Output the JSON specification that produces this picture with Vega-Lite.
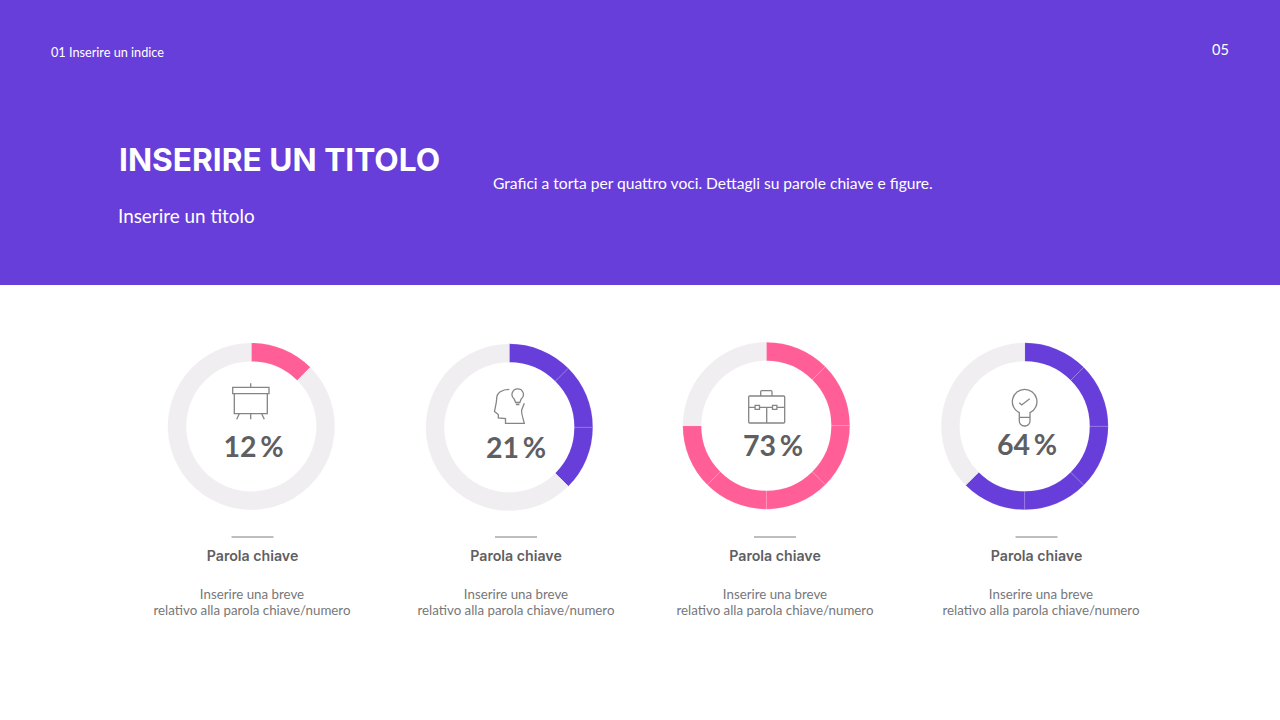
{
  "$schema": "https://vega.github.io/schema/vega-lite/v6.json",
  "description": "Slide with a purple header and four donut charts, one per keyword.",
  "width": 1280,
  "height": 720,
  "padding": 0,
  "autosize": {"type": "fit", "contains": "padding"},
  "background": "#ffffff",
  "config": {"view": {"stroke": null}},
  "datasets": {
    "band": [{"block": "header"}],
    "header": [
      {"slot": 1, "kind": "index", "label": "01 Inserire un indice"},
      {"slot": 2, "kind": "title", "label": "INSERIRE UN TITOLO"},
      {"slot": 3, "kind": "subtitle", "label": "Inserire un titolo"},
      {"slot": 4, "kind": "body", "label": "Grafici a torta per quattro voci. Dettagli su parole chiave e figure."},
      {"slot": 5, "kind": "page", "label": "05"}
    ],
    "segments": [
      {"card": 1, "seg": 1, "value": 12.5, "tone": "pink"},
      {"card": 1, "seg": 2, "value": 87.5, "tone": "rest"},
      {"card": 2, "seg": 1, "value": 12.5, "tone": "purple"},
      {"card": 2, "seg": 2, "value": 12.5, "tone": "purple"},
      {"card": 2, "seg": 3, "value": 12.5, "tone": "purple"},
      {"card": 2, "seg": 4, "value": 62.5, "tone": "rest"},
      {"card": 3, "seg": 1, "value": 12.5, "tone": "pink"},
      {"card": 3, "seg": 2, "value": 12.5, "tone": "pink"},
      {"card": 3, "seg": 3, "value": 12.5, "tone": "pink"},
      {"card": 3, "seg": 4, "value": 12.5, "tone": "pink"},
      {"card": 3, "seg": 5, "value": 12.5, "tone": "pink"},
      {"card": 3, "seg": 6, "value": 12.5, "tone": "pink"},
      {"card": 3, "seg": 7, "value": 25, "tone": "rest"},
      {"card": 4, "seg": 1, "value": 12.5, "tone": "purple"},
      {"card": 4, "seg": 2, "value": 12.5, "tone": "purple"},
      {"card": 4, "seg": 3, "value": 12.5, "tone": "purple"},
      {"card": 4, "seg": 4, "value": 12.5, "tone": "purple"},
      {"card": 4, "seg": 5, "value": 12.5, "tone": "purple"},
      {"card": 4, "seg": 6, "value": 37.5, "tone": "rest"}
    ],
    "cards": [
      {"card": 1, "icon": "easel", "pct": "12\u2009%", "keyword": "Parola chiave"},
      {"card": 2, "icon": "head", "pct": "21\u2009%", "keyword": "Parola chiave"},
      {"card": 3, "icon": "case", "pct": "73\u2009%", "keyword": "Parola chiave"},
      {"card": 4, "icon": "bulb", "pct": "64\u2009%", "keyword": "Parola chiave"}
    ],
    "notes": [
      {"card": 1, "line": 1, "note": "Inserire una breve"},
      {"card": 1, "line": 2, "note": "relativo alla parola chiave/numero"},
      {"card": 2, "line": 1, "note": "Inserire una breve"},
      {"card": 2, "line": 2, "note": "relativo alla parola chiave/numero"},
      {"card": 3, "line": 1, "note": "Inserire una breve"},
      {"card": 3, "line": 2, "note": "relativo alla parola chiave/numero"},
      {"card": 4, "line": 1, "note": "Inserire una breve"},
      {"card": 4, "line": 2, "note": "relativo alla parola chiave/numero"}
    ]
  },
  "resolve": {"scale": {"x": "independent", "y": "independent", "theta": "independent", "color": "independent", "shape": "independent"}},
  "layer": [
    {
      "data": {"name": "band"},
      "mark": {"type": "rect", "color": "#673ed9"},
      "encoding": {
        "y": {"field": "block", "type": "nominal", "axis": null, "scale": {"type": "band", "range": [0, 285], "paddingInner": 0, "paddingOuter": 0}}
      }
    },
    {
      "data": {"name": "header"},
      "encoding": {
        "x": {"field": "slot", "type": "quantitative", "axis": null, "scale": {"domain": [1, 2, 3, 4, 5], "range": [51, 119, 118, 493, 1212], "nice": false, "zero": false}},
        "y": {"field": "slot", "type": "quantitative", "axis": null, "scale": {"domain": [1, 2, 3, 4, 5], "range": [57, 171, 223, 189, 55], "nice": false, "zero": false}},
        "text": {"field": "label"}
      },
      "layer": [
        {
          "transform": [{"filter": "datum.kind == 'index'"}],
          "mark": {"type": "text", "align": "left", "baseline": "alphabetic", "font": "Lato", "fontSize": 12.7, "color": "#ffffff"}
        },
        {
          "transform": [{"filter": "datum.kind == 'title'"}],
          "mark": {"type": "text", "align": "left", "baseline": "alphabetic", "font": "Inter", "fontWeight": 700, "fontSize": 31.7, "color": "#ffffff"}
        },
        {
          "transform": [{"filter": "datum.kind == 'subtitle'"}],
          "mark": {"type": "text", "align": "left", "baseline": "alphabetic", "font": "Lato", "fontSize": 18.9, "color": "#ffffff"}
        },
        {
          "transform": [{"filter": "datum.kind == 'body'"}],
          "mark": {"type": "text", "align": "left", "baseline": "alphabetic", "font": "Lato", "fontSize": 15.6, "color": "#ffffff"}
        },
        {
          "transform": [{"filter": "datum.kind == 'page'"}],
          "mark": {"type": "text", "align": "left", "baseline": "alphabetic", "font": "Lato", "fontSize": 14.5, "color": "#ffffff"}
        }
      ]
    },
    {
      "data": {"name": "segments"},
      "transform": [
        {"stack": "value", "groupby": ["card"], "sort": [{"field": "seg", "order": "ascending"}], "as": ["from", "to"]}
      ],
      "mark": {"type": "arc", "radius": 83.5, "radius2": 65, "stroke": "#ffffff", "strokeWidth": 0.4, "strokeOpacity": 0.3},
      "encoding": {
        "x": {"field": "card", "type": "quantitative", "axis": null, "scale": {"domain": [1, 2, 3, 4], "range": [251.3, 509.3, 766.3, 1024.7], "nice": false, "zero": false}},
        "y": {"field": "card", "type": "quantitative", "axis": null, "scale": {"domain": [1, 2, 3, 4], "range": [426.4, 427.3, 425.7, 426.3], "nice": false, "zero": false}},
        "theta": {"field": "from", "type": "quantitative", "stack": null, "scale": {"domain": [0, 100]}},
        "theta2": {"field": "to"},
        "color": {"field": "tone", "type": "nominal", "legend": null, "scale": {"domain": ["pink", "purple", "rest"], "range": ["#ff5f96", "#673ed9", "#f0eef1"]}}
      }
    },
    {
      "data": {"name": "cards"},
      "mark": {"type": "point", "filled": false, "color": "#858587", "strokeWidth": 1.3, "opacity": 1, "size": 4},
      "encoding": {
        "x": {"field": "card", "type": "quantitative", "axis": null, "scale": {"domain": [1, 2, 3, 4], "range": [251, 510, 766.5, 1024], "nice": false, "zero": false}},
        "y": {"field": "card", "type": "quantitative", "axis": null, "scale": {"domain": [1, 2, 3, 4], "range": [400, 406, 407, 407], "nice": false, "zero": false}},
        "shape": {
          "field": "icon",
          "type": "nominal",
          "legend": null,
          "scale": {
            "domain": ["easel", "head", "case", "bulb"],
            "range": [
              "M-18.3,-12.7H18V-6.3H-18.3ZM-16.7,-6.3V13.7H16.3V-6.3M-0.3,-16.7V-12.7M-11.7,13.7L-14.3,19.3M-0.3,13.7V19.3M10.7,13.7L13.3,19.3",
              "M-0.7,-16.7C-8,-16.7 -13.3,-13 -13.3,-7.7C-13.3,-3 -15,2 -15.5,5.5L-11.7,8.5L-11.7,12L-4.5,12.5L-4.5,17.3L14.3,17.3C13,12 11,7 11.7,4L14.3,-2.7M4.2,-7A5.7,5.7 0 1 1 11.2,-7L9.8,-3.5L5.6,-3.5ZM6,-1.5L9.4,-1.5",
              "M-16.8,-11H17.2A1,1 0 0 1 18.2,-10V15A1,1 0 0 1 17.2,16H-16.8A1,1 0 0 1 -17.8,15V-10A1,1 0 0 1 -16.8,-11ZM-5.8,-11V-15.3A1,1 0 0 1 -4.8,-16.3H4.5A1,1 0 0 1 5.5,-15.3V-11M-17.8,0.3H-11.4M-7,0.3H6M10.4,0.3H18.2M0.2,0.3V16M-11.4,-1.7H-7V2.3H-11.4ZM6,-1.7H10.4V2.3H6Z",
              "M-4.7,5.7A12.3,12.3 0 1 1 6,5.7L6,14A5,5 0 0 1 1,19L0.3,19A5,5 0 0 1 -4.7,14ZM-4.7,10.3L6,10.3M-4.7,-4.3L-2.3,-2L5.7,-8.3"
            ]
          }
        }
      }
    },
    {
      "data": {"name": "cards"},
      "mark": {"type": "text", "align": "center", "baseline": "alphabetic", "font": "Lato", "fontWeight": 700, "fontSize": 28.5, "color": "#5f5f63"},
      "encoding": {
        "x": {"field": "card", "type": "quantitative", "axis": null, "scale": {"domain": [1, 2, 3, 4], "range": [253.5, 516, 773, 1027], "nice": false, "zero": false}},
        "y": {"field": "card", "type": "quantitative", "axis": null, "scale": {"domain": [1, 2, 3, 4], "range": [456.7, 458, 456, 455], "nice": false, "zero": false}},
        "text": {"field": "pct"}
      }
    },
    {
      "data": {"name": "cards"},
      "encoding": {
        "x": {"field": "card", "type": "quantitative", "axis": null, "scale": {"domain": [1, 2, 3, 4], "range": [252.5, 516, 775, 1036.5], "nice": false, "zero": false}}
      },
      "layer": [
        {
          "mark": {"type": "tick", "orient": "horizontal", "size": 42, "thickness": 1.5, "color": "#a9a9ab", "opacity": 1},
          "encoding": {"y": {"field": "card", "type": "quantitative", "axis": null, "scale": {"domain": [1, 4], "range": [537, 537], "nice": false, "zero": false}}}
        },
        {
          "mark": {"type": "text", "align": "center", "baseline": "alphabetic", "font": "Inter", "fontWeight": 600, "fontSize": 14.2, "color": "#5f5f63"},
          "encoding": {
            "y": {"field": "card", "type": "quantitative", "axis": null, "scale": {"domain": [1, 4], "range": [561, 561], "nice": false, "zero": false}},
            "text": {"field": "keyword"}
          }
        }
      ],
      "resolve": {"scale": {"y": "independent"}}
    },
    {
      "data": {"name": "notes"},
      "mark": {"type": "text", "align": "center", "baseline": "alphabetic", "font": "Lato", "fontSize": 13.3, "color": "#77777a"},
      "encoding": {
        "x": {"field": "card", "type": "quantitative", "axis": null, "scale": {"domain": [1, 2, 3, 4], "range": [252, 516, 775, 1041], "nice": false, "zero": false}},
        "y": {"field": "line", "type": "quantitative", "axis": null, "scale": {"domain": [1, 2], "range": [599, 615], "nice": false, "zero": false}},
        "text": {"field": "note"}
      }
    }
  ]
}
